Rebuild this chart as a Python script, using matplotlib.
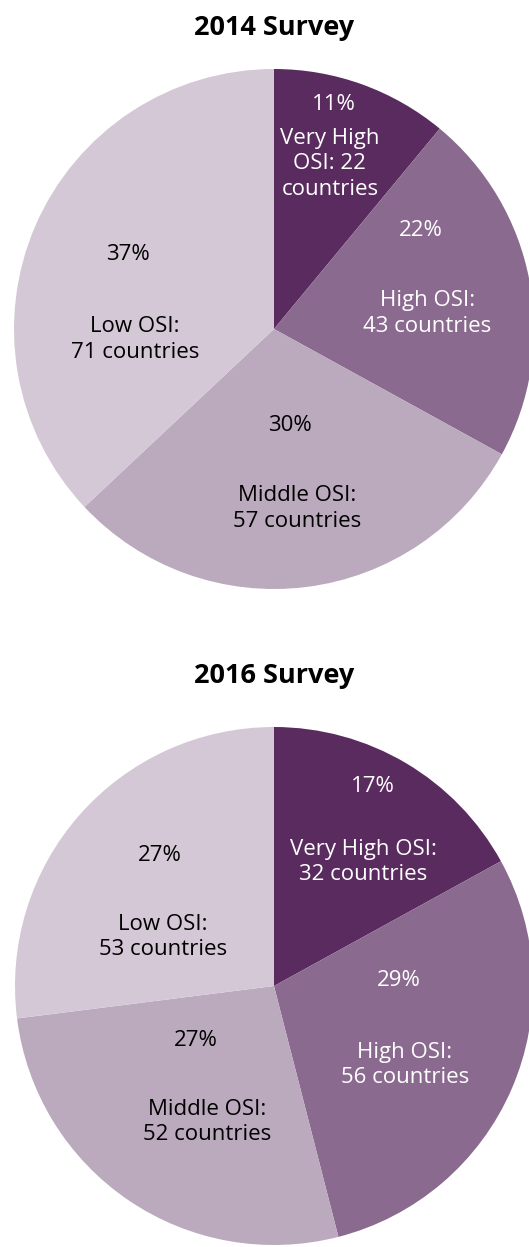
import matplotlib
matplotlib.use("Agg")
import matplotlib.pyplot as plt

# Survey data (clockwise from 12 o'clock)
groups = ['Very High OSI', 'High OSI', 'Middle OSI', 'Low OSI']
share_2014 = [11, 22, 30, 37]
countries_2014 = [22, 43, 57, 71]
share_2016 = [17, 29, 27, 27]
countries_2016 = [32, 56, 52, 53]

colors = ['#5a2b5e', '#8b6a8f', '#bba9bd', '#d4c8d6']
text_colors = ['white', 'white', 'black', 'black']

plt.rcParams['font.family'] = ['Open Sans', 'DejaVu Sans']

W, H = 529, 1247
fig = plt.figure(figsize=(W / 100, H / 100), dpi=100)


def add_pie(cx, cy, r, title, title_y, shares, pct_pos, name_pos, name_texts):
    # axes placed in pixel terms, pie fills [-1, 1]
    ax = fig.add_axes([(cx - r) / W, 1 - (cy + r) / H, 2 * r / W, 2 * r / H])
    ax.pie(shares, colors=colors, startangle=90, counterclock=False,
           radius=1, wedgeprops=dict(linewidth=0))
    ax.set_xlim(-1, 1)
    ax.set_ylim(-1, 1)
    ax.set_aspect('auto')
    ax.axis('off')

    for i in range(len(shares)):
        ax.text(pct_pos[i][0], pct_pos[i][1], f'{shares[i]}%', ha='center', va='center',
                fontsize=16, color=text_colors[i])
        ax.text(name_pos[i][0], name_pos[i][1], name_texts[i], ha='center', va='center',
                fontsize=16, color=text_colors[i], linespacing=1.27)

    fig.text(cx / W, 1 - title_y / H, title, ha='center', va='center',
             fontsize=19.5, fontweight='bold', color='black')


# 2014 pie
names_2014 = [
    f'Very High\nOSI: {countries_2014[0]}\ncountries',
    f'High OSI:\n{countries_2014[1]} countries',
    f'Middle OSI:\n{countries_2014[2]} countries',
    f'Low OSI:\n{countries_2014[3]} countries',
]
add_pie(274, 329, 260, '2014 Survey', 28, share_2014,
        pct_pos=[(0.23, 0.865), (0.565, 0.38), (0.06, -0.37), (-0.56, 0.285)],
        name_pos=[(0.215, 0.635), (0.59, 0.06), (0.09, -0.69), (-0.535, -0.04)],
        name_texts=names_2014)

# 2016 pie
names_2016 = [
    f'Very High OSI:\n{countries_2016[0]} countries',
    f'High OSI:\n{countries_2016[1]} countries',
    f'Middle OSI:\n{countries_2016[2]} countries',
    f'Low OSI:\n{countries_2016[3]} countries',
]
add_pie(274, 986, 259, '2016 Survey', 676, share_2016,
        pct_pos=[(0.38, 0.77), (0.48, 0.02), (-0.30, -0.21), (-0.44, 0.505)],
        name_pos=[(0.345, 0.48), (0.505, -0.305), (-0.26, -0.525), (-0.43, 0.19)],
        name_texts=names_2016)

fig.savefig('out.png', dpi=100)
